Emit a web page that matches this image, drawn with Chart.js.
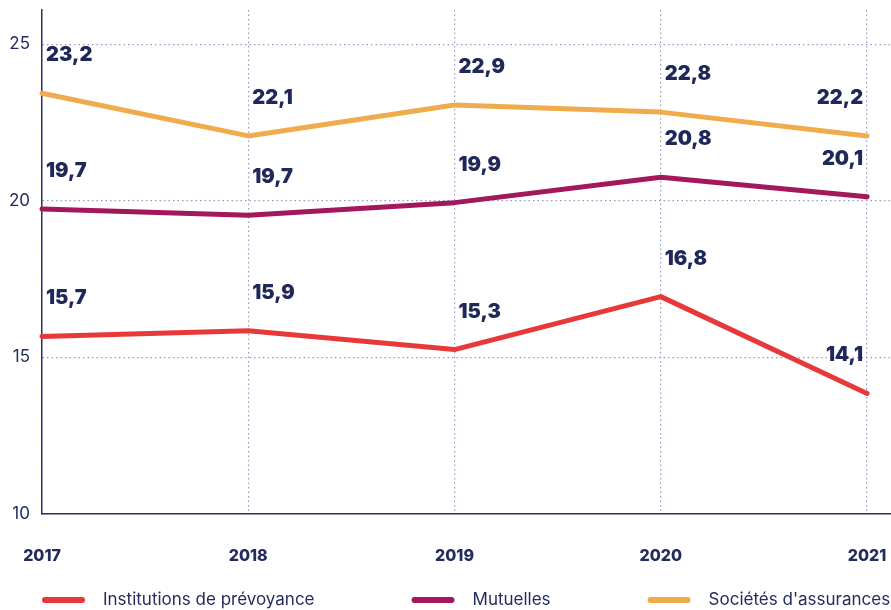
<!DOCTYPE html>
<html><head><meta charset="utf-8">
<script src="https://cdn.jsdelivr.net/npm/chart.js@4/dist/chart.umd.min.js"></script>
<style>html,body{margin:0;padding:0;background:#fff}#wrap{width:891px;height:610px}</style>
</head><body><div id="wrap"><canvas id="c" width="891" height="610"></canvas></div>
<script>
const years = [2017, 2018, 2019, 2020, 2021];
const seriesNames = ['Institutions de prévoyance', 'Mutuelles', "Sociétés d'assurances"];
const institutions = [15.67, 15.85, 15.25, 16.94, 13.85];
const mutuelles = [19.74, 19.54, 19.94, 20.75, 20.13];
const societes = [23.43, 22.07, 23.06, 22.83, 22.07];
const institutionsLabels = ['15,7', '15,9', '15,3', '16,8', '14,1'];
const mutuellesLabels = ['19,7', '19,7', '19,9', '20,8', '20,1'];
const societesLabels = ['23,2', '22,1', '22,9', '22,8', '22,2'];
const yTicks = [10, 15, 20, 25];

const NAVY = '#232c5e';
const FONT = "Inter, 'Open Sans', 'DejaVu Sans', sans-serif";
const colors = ['#e8393a', '#a2185a', '#f0ac4c'];
const valueSets = [institutions, mutuelles, societes];
const labelSets = [institutionsLabels, mutuellesLabels, societesLabels];

const datasets = valueSets.map((vals, i) => ({
  label: seriesNames[i],
  data: years.map((y, j) => ({x: y, y: vals[j]})),
  dataLabels: labelSets[i],
  borderColor: colors[i],
  backgroundColor: colors[i],
  borderWidth: 5,
  borderCapStyle: 'round',
  borderJoinStyle: 'round',
  pointRadius: 0,
  pointHoverRadius: 0,
  tension: 0,
  clip: false
}));

const valueLabelPlugin = {
  id: 'valueLabels',
  afterDatasetsDraw(chart) {
    const ctx = chart.ctx;
    ctx.save();
    ctx.font = "900 20px " + FONT;
    ctx.fillStyle = '#1f2859';
    ctx.textBaseline = 'middle';
    chart.data.datasets.forEach((ds, di) => {
      const meta = chart.getDatasetMeta(di);
      meta.data.forEach((pt, i) => {
        const last = i === meta.data.length - 1;
        ctx.textAlign = last ? 'right' : 'left';
        const x = last ? pt.x - 4 : pt.x + 4;
        ctx.fillText(ds.dataLabels[i], x, pt.y - 38);
      });
    });
    ctx.restore();
  }
};

const legendPlugin = {
  id: 'customLegend',
  afterDraw(chart) {
    const ctx = chart.ctx;
    ctx.save();
    ctx.font = "400 17px " + FONT;
    ctx.textBaseline = 'middle';
    const y = chart.height - 10;
    let x = chart.chartArea.left;
    chart.data.datasets.forEach((ds) => {
      ctx.strokeStyle = ds.borderColor;
      ctx.lineWidth = 6;
      ctx.lineCap = 'round';
      ctx.beginPath();
      ctx.moveTo(x + 3, y);
      ctx.lineTo(x + 40, y);
      ctx.stroke();
      ctx.fillStyle = NAVY;
      ctx.textAlign = 'left';
      const tx = x + 61;
      ctx.fillText(ds.label, tx, y);
      x = tx + ctx.measureText(ds.label).width + 97;
    });
    ctx.restore();
  }
};

const gridOpts = { color: '#9a9ac4', lineWidth: 1.2, drawTicks: false };
const borderOpts = { color: '#2b3266', width: 1.5, dash: [1.5, 3] };

new Chart(document.getElementById('c'), {
  type: 'line',
  data: { datasets },
  plugins: [valueLabelPlugin, legendPlugin],
  options: {
    responsive: false,
    animation: false,
    devicePixelRatio: 1,
    layout: { padding: { top: 10, bottom: 44, left: 0, right: 0 } },
    plugins: { legend: { display: false }, tooltip: { enabled: false } },
    scales: {
      x: {
        type: 'linear',
        min: 2017,
        max: 2021.116,
        afterBuildTicks: s => { s.ticks = years.map(v => ({value: v})); },
        afterFit: s => { s.height = 52; s.paddingLeft = 0; s.paddingRight = 0; },
        ticks: {
          callback: v => String(v),
          color: NAVY,
          font: { family: FONT, size: 16, weight: '800' },
          padding: 33,
          maxRotation: 0,
          autoSkip: false
        },
        grid: gridOpts,
        border: borderOpts
      },
      y: {
        min: 10,
        max: 26.09,
        afterBuildTicks: s => { s.ticks = yTicks.map(v => ({value: v})); },
        afterFit: s => { s.width = 42; s.paddingTop = 0; s.paddingBottom = 0; },
        ticks: {
          color: NAVY,
          font: { family: FONT, size: 17, weight: '400' },
          padding: 12
        },
        grid: gridOpts,
        border: borderOpts
      }
    }
  }
});
</script></body></html>
